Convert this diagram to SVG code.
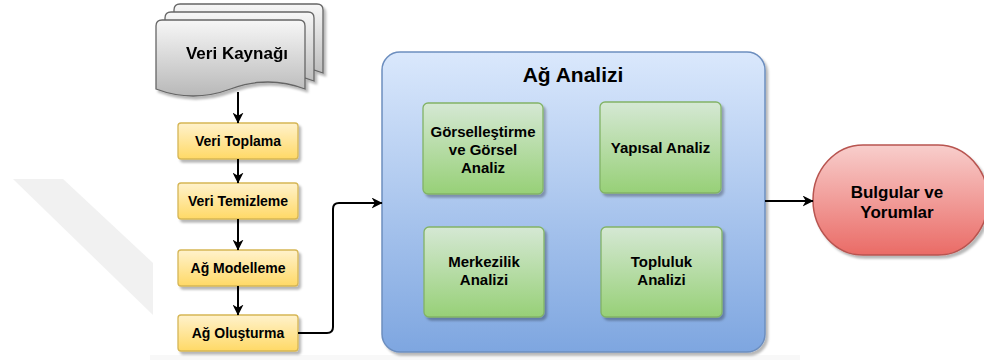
<svg xmlns="http://www.w3.org/2000/svg" width="984" height="360" viewBox="0 0 984 360">
  <defs>
    <linearGradient id="gDoc" x1="0" y1="0" x2="0" y2="1">
      <stop offset="0" stop-color="#f7f7f7"/>
      <stop offset="1" stop-color="#b8b8b8"/>
    </linearGradient>
    <linearGradient id="gYellow" x1="0" y1="0" x2="0" y2="1">
      <stop offset="0" stop-color="#fff2cc"/>
      <stop offset="1" stop-color="#ffd966"/>
    </linearGradient>
    <linearGradient id="gGreen" x1="0" y1="0" x2="0" y2="1">
      <stop offset="0" stop-color="#d5e8d4"/>
      <stop offset="1" stop-color="#97d077"/>
    </linearGradient>
    <linearGradient id="gBlue" x1="0" y1="0" x2="0" y2="1">
      <stop offset="0" stop-color="#dae8fc"/>
      <stop offset="1" stop-color="#7ea6e0"/>
    </linearGradient>
    <linearGradient id="gRed" x1="0" y1="0" x2="0" y2="1">
      <stop offset="0" stop-color="#f8cecc"/>
      <stop offset="1" stop-color="#ea6b66"/>
    </linearGradient>
    <filter id="shadow" x="-10%" y="-10%" width="125%" height="130%">
      <feDropShadow dx="2.5" dy="3" stdDeviation="1.2" flood-color="#000" flood-opacity="0.28"/>
    </filter>
    <marker id="arrow" viewBox="0 0 10 10" refX="9.5" refY="5" markerWidth="11" markerHeight="11" markerUnits="userSpaceOnUse" orient="auto">
      <path d="M0,0 L10,5 L0,10 L3,5 Z" fill="#000"/>
    </marker>
    <path id="page" d="M0,6 Q0,0 6,0 H143 Q149,0 149,6 V69 Q112,55 74.5,69 Q37,83 0,69 Z"/>
  </defs>
  <style>
    text { font-family: "Liberation Sans", Arial, sans-serif; font-weight: bold; fill: #000; text-anchor: middle; }
    .doc { fill: url(#gDoc); stroke: #666666; stroke-width: 1.3; }
    .yellow { fill: url(#gYellow); stroke: #d6b656; stroke-width: 1.3; }
    .green { fill: url(#gGreen); stroke: #82b366; stroke-width: 1.3; }
    .blue { fill: url(#gBlue); stroke: #6c8ebf; stroke-width: 1.5; }
    .red { fill: url(#gRed); stroke: #b85450; stroke-width: 1.5; }
    .edge { fill: none; stroke: #000; stroke-width: 2; marker-end: url(#arrow); }
    .t14 { font-size: 14px; }
    .t15 { font-size: 15px; }
    .t17 { font-size: 17px; }
    .t21 { font-size: 21px; }
  </style>

  <rect width="984" height="360" fill="#ffffff"/>
  <!-- faint background band -->
  <polygon points="13,179 63,179 153,263 153,315" fill="#f1f1f1"/>
  <rect x="150" y="355" width="650" height="5" fill="#f8f8f8"/>

  <!-- stacked document: Veri Kaynağı -->
  <g id="veri-kaynagi" filter="url(#shadow)">
    <use href="#page" class="doc" transform="translate(174,4)"/>
    <use href="#page" class="doc" transform="translate(165,12)"/>
    <use href="#page" class="doc" transform="translate(156,20)"/>
    <text class="t17" x="237" y="59">Veri Kaynağı</text>
  </g>

  <!-- preparation steps -->
  <g id="veri-toplama">
    <rect class="yellow" x="178" y="123" width="120" height="36" rx="3" filter="url(#shadow)"/>
    <text class="t14" x="238" y="146">Veri Toplama</text>
  </g>
  <g id="veri-temizleme">
    <rect class="yellow" x="178" y="183" width="120" height="36" rx="3" filter="url(#shadow)"/>
    <text class="t14" x="238" y="206">Veri Temizleme</text>
  </g>
  <g id="ag-modelleme">
    <rect class="yellow" x="178" y="250" width="120" height="36" rx="3" filter="url(#shadow)"/>
    <text class="t14" x="238" y="273">Ağ Modelleme</text>
  </g>
  <g id="ag-olusturma">
    <rect class="yellow" x="178" y="315" width="120" height="36" rx="3" filter="url(#shadow)"/>
    <text class="t14" x="238" y="338">Ağ Oluşturma</text>
  </g>

  <!-- analysis container -->
  <g id="ag-analizi">
    <rect class="blue" x="382" y="52" width="383" height="300" rx="18" filter="url(#shadow)"/>
    <text class="t21" x="573" y="82">Ağ Analizi</text>
  </g>
  <g id="gorsellestirme">
    <rect class="green" x="423" y="103" width="120" height="91" rx="5" filter="url(#shadow)"/>
    <text class="t15" x="483" y="137">Görselleştirme</text>
    <text class="t15" x="483" y="155">ve Görsel</text>
    <text class="t15" x="483" y="173">Analiz</text>
  </g>
  <g id="yapisal">
    <rect class="green" x="600" y="102" width="121" height="91" rx="5" filter="url(#shadow)"/>
    <text class="t15" x="660.5" y="153">Yapısal Analiz</text>
  </g>
  <g id="merkezilik">
    <rect class="green" x="424" y="227" width="120" height="90" rx="5" filter="url(#shadow)"/>
    <text class="t15" x="484" y="267">Merkezilik</text>
    <text class="t15" x="484" y="285">Analizi</text>
  </g>
  <g id="topluluk">
    <rect class="green" x="601" y="227" width="121" height="90" rx="5" filter="url(#shadow)"/>
    <text class="t15" x="661.5" y="267">Topluluk</text>
    <text class="t15" x="661.5" y="285">Analizi</text>
  </g>

  <!-- results -->
  <g id="bulgular">
    <rect class="red" x="813" y="145" width="175" height="110" rx="50" ry="55" filter="url(#shadow)"/>
    <text class="t17" x="897" y="198">Bulgular ve</text>
    <text class="t17" x="897" y="218">Yorumlar</text>
  </g>

  <!-- connectors -->
  <g id="connectors">
    <path class="edge" d="M238,92 V123"/>
    <path class="edge" d="M238,159 V183"/>
    <path class="edge" d="M238,219 V250"/>
    <path class="edge" d="M238,286 V315"/>
    <path class="edge" d="M298,333 H327 Q333,333 333,327 V209 Q333,203 339,203 H382"/>
    <path class="edge" d="M765,201 H813"/>
  </g>
</svg>
